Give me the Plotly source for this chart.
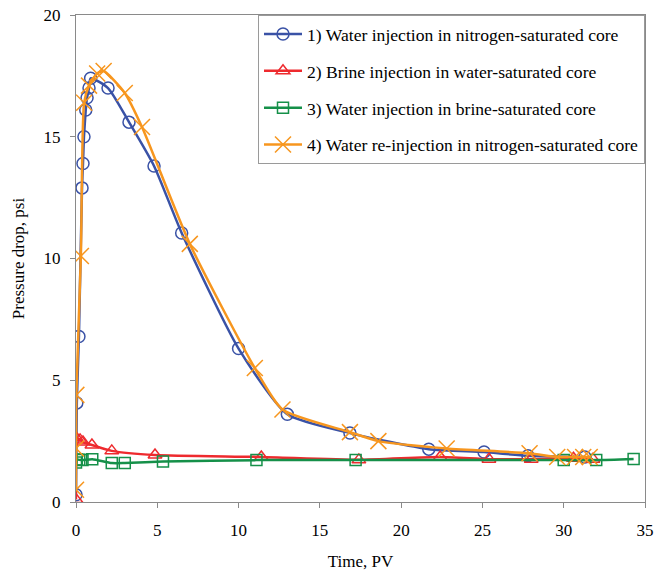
import plotly.graph_objects as go

# Series 1: Water injection in nitrogen-saturated core
s1_x = [0.0, 0.05, 0.18, 0.37, 0.43, 0.49, 0.6, 0.68, 0.8, 0.9, 1.97, 3.26, 4.8, 6.5, 10.0, 13.0, 16.85, 21.7, 25.1, 27.8, 31.3]
s1_y = [0.3, 4.07, 6.8, 12.9, 13.9, 15.0, 16.1, 16.6, 17.0, 17.4, 17.0, 15.6, 13.8, 11.05, 6.3, 3.6, 2.83, 2.17, 2.05, 1.9, 1.85]

# Series 2: Brine injection in water-saturated core
s2_x = [0.0, 0.0, 0.25, 0.43, 0.98, 2.2, 4.86, 11.4, 17.4, 22.4, 25.4, 28.0, 30.6, 31.8]
s2_y = [0.1, 2.65, 2.55, 2.46, 2.34, 2.1, 1.93, 1.85, 1.73, 1.85, 1.76, 1.76, 1.8, 1.76]

# Series 3: Water injection in brine-saturated core
s3_x = [0.0, 0.05, 0.2, 0.4, 1.0, 2.2, 3.0, 5.35, 11.1, 17.2, 30.0, 32.0, 34.3]
s3_y = [1.62, 1.75, 1.73, 1.72, 1.76, 1.6, 1.6, 1.66, 1.72, 1.72, 1.72, 1.72, 1.77]

# Series 4: Water re-injection in nitrogen-saturated core
s4_x = [0.0, 0.0, 0.02, 0.3, 0.5, 0.8, 1.3, 1.7, 3.0, 4.06, 7.0, 11.0, 12.7, 16.85, 18.6, 22.8, 27.9, 29.6, 30.7, 31.2, 31.6]
s4_y = [0.5, 2.2, 4.4, 10.1, 16.4, 17.1, 17.6, 17.7, 16.8, 15.4, 10.6, 5.5, 3.8, 2.87, 2.5, 2.2, 2.0, 1.85, 1.85, 1.85, 1.85]

names = [
    "1) Water injection in nitrogen-saturated core",
    "2) Brine injection in water-saturated core",
    "3) Water injection in brine-saturated core",
    "4) Water re-injection in nitrogen-saturated core",
]
x_ticks = [0, 5, 10, 15, 20, 25, 30, 35]
y_ticks = [0, 5, 10, 15, 20]

colors = ["#3A52A6", "#EE2A2E", "#159049", "#F7961E"]
symbols = ["circle-open", "triangle-up-open", "square-open", "x-thin-open"]
sizes = [12, 12, 11, 16]

FONT = "'Liberation Serif', 'Times New Roman', Times, serif"
fig = go.Figure()
for i, (xs, ys) in enumerate([(s1_x, s1_y), (s2_x, s2_y), (s3_x, s3_y), (s4_x, s4_y)]):
    fig.add_trace(go.Scatter(
        x=xs, y=ys, name=names[i], mode="lines+markers",
        line=dict(color=colors[i], width=2.5, shape="spline", smoothing=0.6),
        marker=dict(symbol=symbols[i], size=sizes[i], color=colors[i],
                    line=dict(color=colors[i], width=1.5)),
        legendgroup=str(i),
    ))

fig.update_layout(
    width=654, height=571,
    margin=dict(l=76, r=9, t=15, b=69),
    paper_bgcolor="white", plot_bgcolor="white",
    font=dict(family=FONT, size=17, color="black"),
    showlegend=True,
    legend=dict(x=1, y=1, xanchor="right", yanchor="top",
                bordercolor="#9a9a9a", borderwidth=1, bgcolor="white",
                font=dict(family=FONT, size=17.6), tracegroupgap=11,
                itemwidth=38, traceorder="grouped"),
    xaxis=dict(range=[0, 35], tickvals=x_ticks, showgrid=False, zeroline=False,
               showline=True, linecolor="#8a8a8a", linewidth=1, mirror=True,
               ticks="outside", ticklen=5, tickcolor="#8a8a8a", automargin=False,
               ticklabelstandoff=8, tickfont=dict(family=FONT, size=17),
               title=dict(text="Time, PV", font=dict(family=FONT, size=17), standoff=18)),
    yaxis=dict(range=[0, 20], tickvals=y_ticks, showgrid=False, zeroline=False,
               showline=True, linecolor="#8a8a8a", linewidth=1, mirror=True,
               ticks="outside", ticklen=5, tickcolor="#8a8a8a", automargin=False,
               ticklabelstandoff=6, tickfont=dict(family=FONT, size=17),
               title=dict(text="Pressure drop, psi", font=dict(family=FONT, size=17), standoff=14)),
)

fig.write_html("out.html")
